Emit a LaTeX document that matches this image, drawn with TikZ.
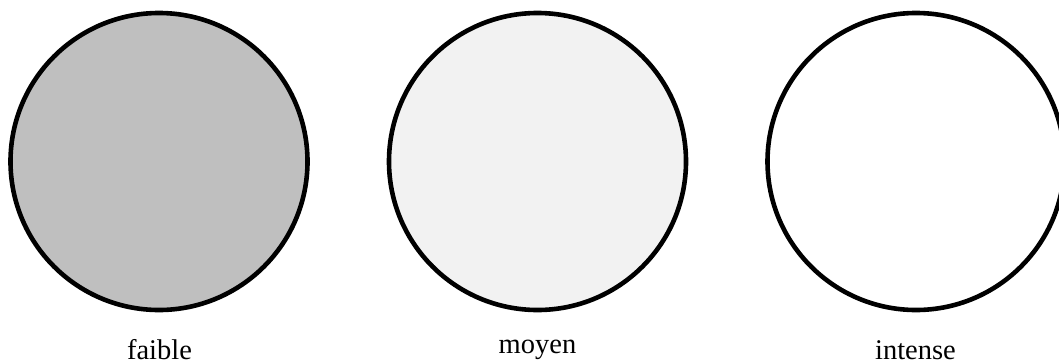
\documentclass[tikz,border=0pt]{standalone}
\usepackage{fontspec}
\setmainfont{Liberation Serif}
\definecolor{darkfill}{HTML}{BFBFBF}
\definecolor{lightfill}{HTML}{F2F2F2}
\begin{document}
\begin{tikzpicture}[x=1pt,y=-1pt,
  disc/.style={circle, draw=black, line width=4.6pt, minimum size=297pt, inner sep=0pt},
  lbl/.style={anchor=base, inner sep=0pt, font=\fontsize{28.5}{32}\selectfont}]
\useasboundingbox (0,0) rectangle (1059,362);
\node[disc, fill=darkfill] (c1) at (159,161.5) {};
\node[disc, fill=lightfill] (c2) at (537.5,161.5) {};
\node[disc, fill=white] (c3) at (916,161.5) {};
\node[lbl] (t1) at (159.5,359) {faible};
\node[lbl] (t2) at (537.5,353) {moyen};
\node[lbl] (t3) at (915.5,359) {intense};
\end{tikzpicture}
\end{document}
